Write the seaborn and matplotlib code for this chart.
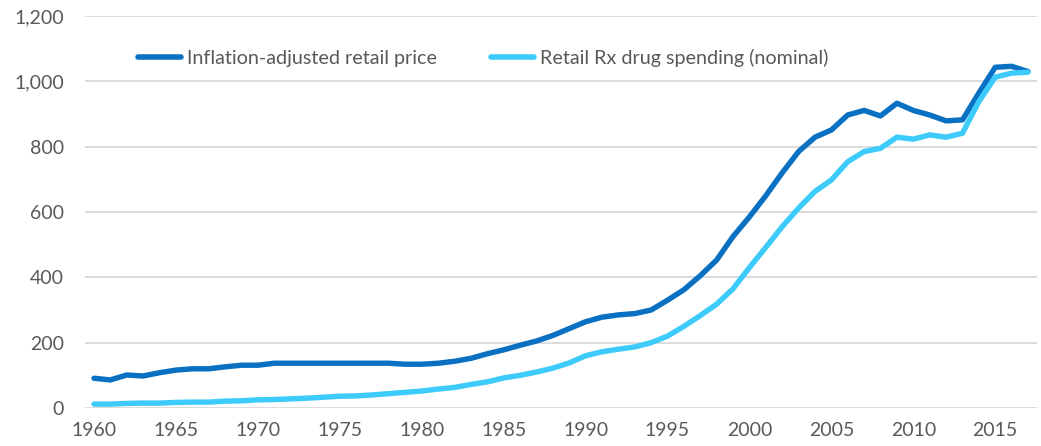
import numpy as np
import pandas as pd
import matplotlib
matplotlib.use("Agg")
import matplotlib.pyplot as plt
import seaborn as sns

# Dados
anos = list(range(1960, 2018))
preco_ajustado = [
    91, 86, 101, 98, 108, 116, 120, 120, 126, 131,
    131, 137, 137, 137, 137, 137, 137, 137, 137, 134,
    134, 137, 143, 152, 166, 178, 192, 205, 222, 243,
    264, 278, 285, 289, 300, 330, 362, 405, 453, 525,
    585, 650, 720, 785, 829, 851, 897, 911, 894, 933,
    911, 897, 879, 882, 964, 1043, 1046, 1030,
]
gasto_nominal = [
    12, 12, 14, 15, 15, 17, 18, 18, 21, 22,
    25, 26, 28, 30, 33, 36, 37, 40, 44, 48,
    52, 58, 63, 72, 80, 92, 100, 110, 122, 138,
    160, 172, 180, 187, 200, 220, 250, 283, 318, 365,
    430, 492, 555, 612, 663, 698, 754, 785, 795, 829,
    823, 836, 829, 841, 938, 1013, 1025, 1028,
]
nomes_series = ["Inflation-adjusted retail price", "Retail Rx drug spending (nominal)"]
cores = ["#0A70C2", "#3CCBFA"]

dados = pd.DataFrame({
    "ano": anos * 2,
    "valor": preco_ajustado + gasto_nominal,
    "serie": [nomes_series[0]] * len(anos) + [nomes_series[1]] * len(anos),
})

sns.set_style("white")
plt.rcParams["font.family"] = ["Lato", "DejaVu Sans"]

fig = plt.figure(figsize=(10.41, 4.46), dpi=100)
ax = fig.add_axes([85 / 1041, 1 - 408 / 446, (1037 - 85) / 1041, (408 - 16) / 446])

sns.lineplot(data=dados, x="ano", y="valor", hue="serie", palette=cores,
             linewidth=3.9, ax=ax, solid_capstyle="round", legend=True)

ax.set_xlim(1959.45, 2017.55)
ax.set_ylim(0, 1200)
ax.set_yticks(range(0, 1201, 200))
ax.set_yticklabels([f"{v:,}" for v in range(0, 1201, 200)])
ax.set_xticks(range(1960, 2016, 5))
ax.grid(axis="y", color="#D9D9D9", linewidth=1.3)
ax.set_axisbelow(True)
ax.set_xlabel("")
ax.set_ylabel("")
for s in ax.spines.values():
    s.set_visible(False)
ax.tick_params(axis="both", length=0, labelsize=14, colors="#595959")
ax.tick_params(axis="y", pad=15)
ax.tick_params(axis="x", pad=10)

leg = ax.legend(loc="center left", bbox_to_anchor=(0.037, 0.893), ncol=2, frameon=False,
                handlelength=2.2, handletextpad=0.3, columnspacing=2.7, fontsize=14.2)
for t in leg.get_texts():
    t.set_color("#595959")
for h in leg.get_lines():
    h.set_linewidth(4)
    h.set_solid_capstyle("round")

fig.savefig("out.png", dpi=100)
